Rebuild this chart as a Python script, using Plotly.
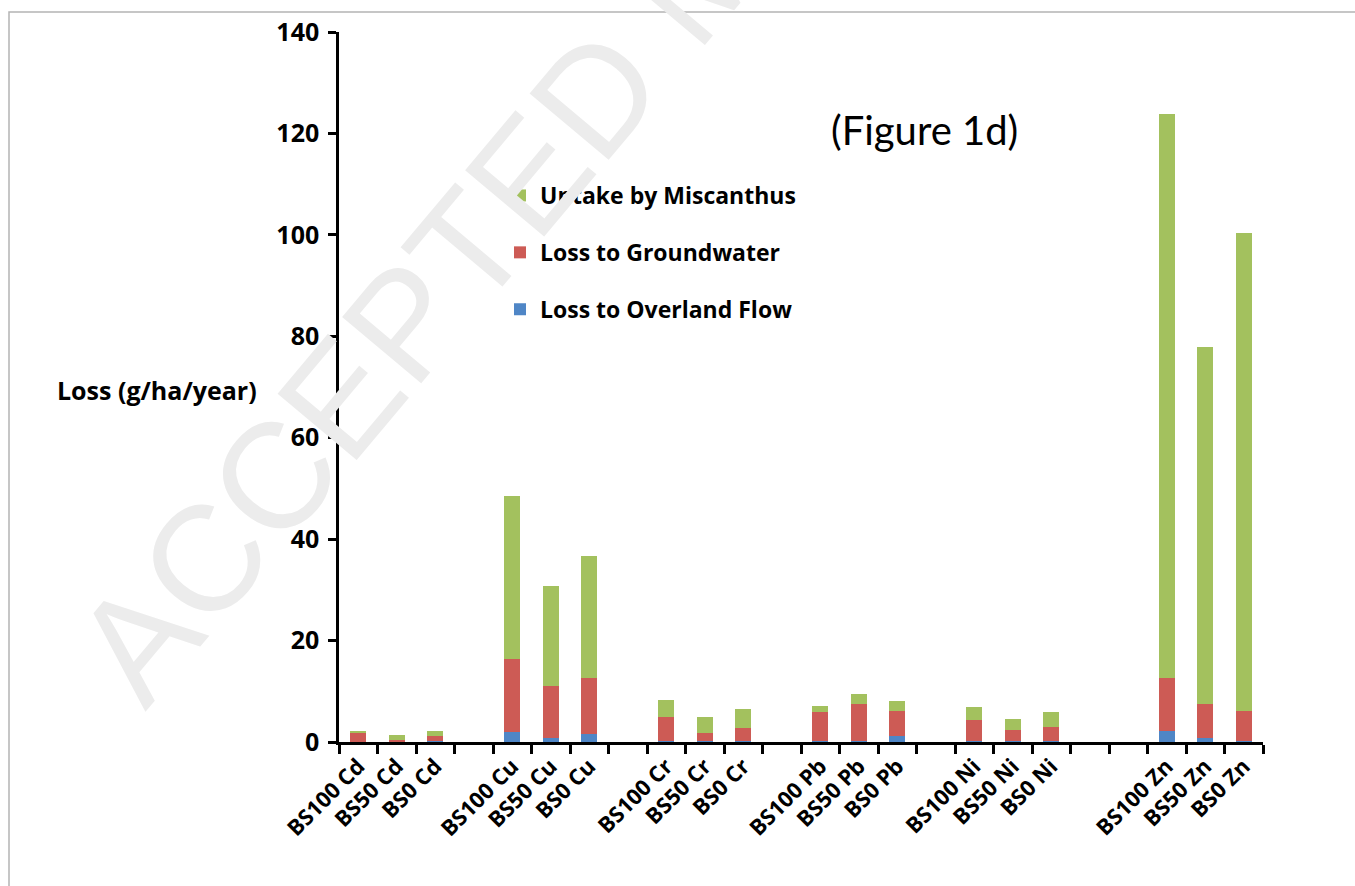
import plotly.graph_objects as go

# Treatments and metals along the x axis
treatments = ["BS100", "BS50", "BS0"]
metals = ["Cd", "Cu", "Cr", "Pb", "Ni", "Zn"]
categories = [f"{t} {m}" for m in metals for t in treatments]

# Annual losses (g/ha/year), one value per category
overland_flow = [0.05, 0.05, 0.1,
                 2.0, 0.8, 1.5,
                 0.1, 0.1, 0.1,
                 0.1, 0.1, 1.1,
                 0.1, 0.1, 0.1,
                 2.1, 0.75, 0.1]
groundwater = [1.9, 0.35, 1.0,
               14.3, 10.3, 11.1,
               4.8, 1.6, 2.6,
               5.8, 7.4, 5.0,
               4.3, 2.3, 2.8,
               10.6, 6.75, 6.1]
miscanthus_uptake = [0.2, 0.9, 1.0,
                     32.3, 19.7, 24.0,
                     3.3, 3.3, 3.8,
                     1.2, 1.9, 1.9,
                     2.5, 2.2, 3.0,
                     111.2, 70.4, 94.1]

# Empty slots separating the metal groups (two before Zn)
gap_after = {"Cd": 1, "Cu": 1, "Cr": 1, "Pb": 1, "Ni": 2}
axis_order = []
spacer = 0
for m in metals:
    axis_order += [f"{t} {m}" for t in treatments]
    for _ in range(gap_after.get(m, 0)):
        spacer += 1
        axis_order.append(" " * spacer)

BLUE = "#4f86c6"
RED = "#cd5b55"
GREEN = "#a3c15e"
FONT = "Open Sans"

fig = go.Figure()
fig.add_bar(x=categories, y=overland_flow, name="Loss to Overland Flow",
            marker=dict(color=BLUE, line=dict(width=0)),
            legendgroup="overland", legendrank=3)
fig.add_bar(x=categories, y=groundwater, name="Loss to Groundwater",
            marker=dict(color=RED, line=dict(width=0)),
            legendgroup="groundwater", legendrank=2)
fig.add_bar(x=categories, y=miscanthus_uptake, name="Uptake by Miscanthus",
            marker=dict(color=GREEN, line=dict(width=0)),
            legendgroup="uptake", legendrank=1)

# Plot-area geometry in pixels
L, R, T, B = 339, 92, 32, 144
W, H = 1355, 886
pw, ph = W - L - R, H - T - B


def px(x):
    return (x - L) / pw


def py(y):
    return (H - B - y) / ph


fig.update_layout(
    width=W, height=H,
    margin=dict(l=L, r=R, t=T, b=B),
    paper_bgcolor="white", plot_bgcolor="white",
    barmode="stack", bargap=0.585,
    font=dict(family=FONT, color="black", size=24),
    showlegend=True,
    legend=dict(
        x=px(500), y=py(174), xanchor="left", yanchor="top",
        traceorder="grouped", tracegroupgap=24,
        bgcolor="rgba(0,0,0,0)",
        font=dict(family=FONT, size=23, weight="bold"),
        itemclick=False,
    ),
    xaxis=dict(
        type="category", categoryorder="array", categoryarray=axis_order,
        range=[-0.5, len(axis_order) - 0.5],
        showline=True, linecolor="black", linewidth=2.5,
        ticks="outside", tickson="boundaries", ticklen=9, tickwidth=2.5,
        tickcolor="black", tickangle=-45, showgrid=False,
        tickfont=dict(family=FONT, size=22, weight="bold"),
    ),
    yaxis=dict(
        range=[0, 140], dtick=20,
        showline=True, linecolor="black", linewidth=2.5,
        ticks="outside", ticklen=8, tickwidth=2.5, tickcolor="black",
        showgrid=False, zeroline=False, ticklabelstandoff=4,
        tickfont=dict(family=FONT, size=25, weight="bold"),
    ),
    annotations=[
        dict(text="Loss (g/ha/year)", xref="paper", yref="paper",
             x=px(259), y=py(390), xanchor="right", yanchor="middle",
             showarrow=False,
             font=dict(family=FONT, size=25, weight="bold")),
        dict(text="(Figure 1d)", xref="paper", yref="paper",
             x=px(924), y=py(130), xanchor="center", yanchor="middle",
             showarrow=False, font=dict(family="Lato", size=40)),
        dict(text="ACCEPTED MANUSCRIPT", xref="paper", yref="paper",
             x=px(700), y=py(-30), xanchor="center", yanchor="middle",
             showarrow=False, textangle=-50,
             font=dict(family="Liberation Sans", size=150, color="#ececec")),
    ],
    shapes=[
        dict(type="rect", xref="paper", yref="paper",
             x0=px(9), y0=py(12), x1=px(1400), y1=py(950),
             line=dict(color="#b4b4b4", width=1.5), layer="below"),
    ],
)

fig.write_html("out.html")
